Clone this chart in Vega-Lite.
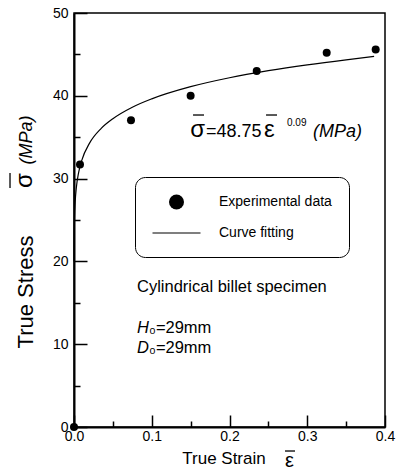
{
  "$schema": "https://vega.github.io/schema/vega-lite/v6.json",
  "width": 311,
  "height": 414,
  "autosize": {"type": "none"},
  "padding": {"left": 74, "top": 13, "right": 14, "bottom": 49},
  "background": "white",
  "config": {
    "view": {"stroke": "black", "strokeWidth": 1.5},
    "font": "Liberation Sans",
    "axis": {"labelFont": "Liberation Sans", "titleFont": "Liberation Sans", "labelColor": "black", "titleColor": "black", "domainColor": "black", "tickColor": "black", "titleFontWeight": "normal", "labelFlush": false}
  },
  "datasets": {
    "points": [
      {"strain": 0.0, "stress": 0.0, "series": "Experimental data"},
      {"strain": 0.0077, "stress": 31.7, "series": "Experimental data"},
      {"strain": 0.0733, "stress": 37.05, "series": "Experimental data"},
      {"strain": 0.150, "stress": 40.0, "series": "Experimental data"},
      {"strain": 0.235, "stress": 43.0, "series": "Experimental data"},
      {"strain": 0.325, "stress": 45.2, "series": "Experimental data"},
      {"strain": 0.388, "stress": 45.6, "series": "Experimental data"}
    ],
    "curve": [
      {"strain": 0.00005, "stress": 19.99},
      {"strain": 0.0001, "stress": 21.28},
      {"strain": 0.0003, "stress": 23.49},
      {"strain": 0.0007, "stress": 25.36},
      {"strain": 0.0015, "stress": 27.15},
      {"strain": 0.003, "stress": 28.90},
      {"strain": 0.006, "stress": 30.76},
      {"strain": 0.01, "stress": 32.21},
      {"strain": 0.02, "stress": 34.28},
      {"strain": 0.035, "stress": 36.06},
      {"strain": 0.05, "stress": 37.23},
      {"strain": 0.075, "stress": 38.62},
      {"strain": 0.1, "stress": 39.63},
      {"strain": 0.15, "stress": 41.10},
      {"strain": 0.2, "stress": 42.18},
      {"strain": 0.25, "stress": 43.03},
      {"strain": 0.3, "stress": 43.74},
      {"strain": 0.35, "stress": 44.35},
      {"strain": 0.386, "stress": 44.75}
    ],
    "bars": [
      {"x1": 0.1531, "x2": 0.1672, "y1": 37.68, "y2": 37.68},
      {"x1": 0.2470, "x2": 0.2611, "y1": 37.68, "y2": 37.68},
      {"x1": 0.2714, "x2": 0.2843, "y1": -2.90, "y2": -2.90},
      {"x1": -0.0823, "x2": -0.0823, "y1": 28.86, "y2": 30.68}
    ],
    "notes": [
      {"part": "plain", "x": 0.081, "y": 16.36, "text": "Cylindrical billet specimen"},
      {"part": "plain", "x": 0.0965, "y": 11.34, "text": "₀=29mm"},
      {"part": "plain", "x": 0.0965, "y": 8.93, "text": "₀=29mm"},
      {"part": "italicRight", "x": 0.0965, "y": 11.34, "text": "H"},
      {"part": "italicRight", "x": 0.0965, "y": 8.93, "text": "D"},
      {"part": "symRight", "x": 0.1685, "y": 35.02, "text": "σ"},
      {"part": "num", "x": 0.1698, "y": 35.02, "text": "=48.75"},
      {"part": "symLeft", "x": 0.2444, "y": 35.02, "text": "ε"},
      {"part": "sup", "x": 0.274, "y": 36.35, "text": "0.09"},
      {"part": "unit", "x": 0.3074, "y": 35.02, "text": "(MPa)"},
      {"part": "xsym", "x": 0.2714, "y": -4.83, "text": "ε"},
      {"part": "ysym", "x": -0.054, "y": 29.77, "text": "σ"},
      {"part": "yunit", "x": -0.054, "y": 34.66, "text": "(MPa)"}
    ]
  },
  "resolve": {"axis": {"x": "independent", "y": "independent"}},
  "layer": [
    {
      "data": {"name": "curve"},
      "mark": {"type": "line", "color": "black", "strokeWidth": 1.2, "interpolate": "monotone", "clip": false},
      "encoding": {
        "x": {"field": "strain", "type": "quantitative", "scale": {"domain": [0, 0.4], "nice": false},
          "axis": {"orient": "bottom", "values": [0, 0.1, 0.2, 0.3, 0.4], "format": ".1f", "tickSize": -12, "tickWidth": 1.5, "domainWidth": 2, "labelPadding": 14, "labelFontSize": 14, "grid": false,
            "title": "True Strain", "titleFontSize": 17, "titleX": 149.5, "titleY": 36, "titleBaseline": "alphabetic", "titleAnchor": "middle", "titleAlign": "center"}},
        "y": {"field": "stress", "type": "quantitative", "scale": {"domain": [0, 50], "nice": false},
          "axis": {"orient": "left", "values": [0, 10, 20, 30, 40, 50], "format": "d", "tickSize": -13, "tickWidth": 1.5, "domainWidth": 2, "labelPadding": 19, "labelFontSize": 14, "grid": false,
            "title": "True Stress", "titleFontSize": 22, "titleX": -42, "titleY": 278.5, "titleBaseline": "alphabetic", "titleAngle": 270, "titleAlign": "center"}}
      }
    },
    {
      "data": {"name": "points"},
      "mark": {"type": "point", "filled": true, "color": "black", "opacity": 1, "size": 64, "clip": false},
      "encoding": {
        "x": {"field": "strain", "type": "quantitative",
          "axis": {"orient": "bottom", "values": [0.05, 0.15, 0.25, 0.35], "tickSize": -6, "tickWidth": 1.5, "labels": false, "domain": false, "title": null, "grid": false}},
        "y": {"field": "stress", "type": "quantitative",
          "axis": {"orient": "left", "values": [5, 15, 25, 35, 45], "tickSize": -6, "tickWidth": 1.5, "labels": false, "domain": false, "title": null, "grid": false}},
        "shape": {"field": "series", "type": "nominal",
          "scale": {"domain": ["Experimental data", "Curve fitting"], "range": ["circle", "M-3.2,-0.08H3.2V0.08H-3.2Z"]},
          "legend": {"orient": "none", "legendX": 61, "legendY": 164, "title": null, "strokeColor": "black", "cornerRadius": 10, "padding": 17, "fillColor": "white",
            "symbolSize": 225, "symbolOffset": 16.5, "symbolStrokeColor": "black", "symbolStrokeWidth": 0.4, "symbolFillColor": "black", "symbolOpacity": 1,
            "labelFont": "Liberation Sans", "labelFontSize": 14, "labelColor": "black", "labelOffset": 34.5, "rowPadding": 14,
            "encode": {
              "legend": {"strokeWidth": {"value": 1.2}},
              "symbols": {"fill": {"value": "black"}, "opacity": {"value": 1}}}}
        }
      }
    },
    {
      "data": {"name": "bars"},
      "mark": {"type": "rule", "color": "black", "strokeWidth": 1.3, "clip": false},
      "encoding": {
        "x": {"field": "x1", "type": "quantitative", "axis": null},
        "x2": {"field": "x2"},
        "y": {"field": "y1", "type": "quantitative", "axis": null},
        "y2": {"field": "y2"}
      }
    },
    {
      "data": {"name": "notes"},
      "transform": [{"filter": "datum.part === 'plain'"}],
      "mark": {"type": "text", "align": "left", "baseline": "alphabetic", "fontSize": 16.5, "color": "black", "font": "Liberation Sans"},
      "encoding": {
        "x": {"field": "x", "type": "quantitative", "axis": null},
        "y": {"field": "y", "type": "quantitative", "axis": null},
        "text": {"field": "text"}
      }
    },
    {
      "data": {"name": "notes"},
      "transform": [{"filter": "datum.part === 'italicRight'"}],
      "mark": {"type": "text", "align": "right", "baseline": "alphabetic", "fontSize": 16.5, "fontStyle": "italic", "color": "black", "font": "Liberation Sans"},
      "encoding": {
        "x": {"field": "x", "type": "quantitative", "axis": null},
        "y": {"field": "y", "type": "quantitative", "axis": null},
        "text": {"field": "text"}
      }
    },
    {
      "data": {"name": "notes"},
      "transform": [{"filter": "datum.part === 'symRight'"}],
      "mark": {"type": "text", "align": "right", "baseline": "alphabetic", "fontSize": 24, "color": "black", "font": "Liberation Sans"},
      "encoding": {
        "x": {"field": "x", "type": "quantitative", "axis": null},
        "y": {"field": "y", "type": "quantitative", "axis": null},
        "text": {"field": "text"}
      }
    },
    {
      "data": {"name": "notes"},
      "transform": [{"filter": "datum.part === 'symLeft'"}],
      "mark": {"type": "text", "align": "left", "baseline": "alphabetic", "fontSize": 24, "color": "black", "font": "Liberation Sans"},
      "encoding": {
        "x": {"field": "x", "type": "quantitative", "axis": null},
        "y": {"field": "y", "type": "quantitative", "axis": null},
        "text": {"field": "text"}
      }
    },
    {
      "data": {"name": "notes"},
      "transform": [{"filter": "datum.part === 'num'"}],
      "mark": {"type": "text", "align": "left", "baseline": "alphabetic", "fontSize": 18, "color": "black", "font": "Liberation Sans"},
      "encoding": {
        "x": {"field": "x", "type": "quantitative", "axis": null},
        "y": {"field": "y", "type": "quantitative", "axis": null},
        "text": {"field": "text"}
      }
    },
    {
      "data": {"name": "notes"},
      "transform": [{"filter": "datum.part === 'sup'"}],
      "mark": {"type": "text", "align": "left", "baseline": "alphabetic", "fontSize": 10, "color": "black", "font": "Liberation Sans"},
      "encoding": {
        "x": {"field": "x", "type": "quantitative", "axis": null},
        "y": {"field": "y", "type": "quantitative", "axis": null},
        "text": {"field": "text"}
      }
    },
    {
      "data": {"name": "notes"},
      "transform": [{"filter": "datum.part === 'unit'"}],
      "mark": {"type": "text", "align": "left", "baseline": "alphabetic", "fontSize": 18, "fontStyle": "italic", "color": "black", "font": "Liberation Sans"},
      "encoding": {
        "x": {"field": "x", "type": "quantitative", "axis": null},
        "y": {"field": "y", "type": "quantitative", "axis": null},
        "text": {"field": "text"}
      }
    },
    {
      "data": {"name": "notes"},
      "transform": [{"filter": "datum.part === 'xsym'"}],
      "mark": {"type": "text", "align": "left", "baseline": "alphabetic", "fontSize": 20, "color": "black", "font": "Liberation Sans"},
      "encoding": {
        "x": {"field": "x", "type": "quantitative", "axis": null},
        "y": {"field": "y", "type": "quantitative", "axis": null},
        "text": {"field": "text"}
      }
    },
    {
      "data": {"name": "notes"},
      "transform": [{"filter": "datum.part === 'ysym'"}],
      "mark": {"type": "text", "align": "center", "baseline": "alphabetic", "angle": 270, "fontSize": 24, "color": "black", "font": "Liberation Sans"},
      "encoding": {
        "x": {"field": "x", "type": "quantitative", "axis": null},
        "y": {"field": "y", "type": "quantitative", "axis": null},
        "text": {"field": "text"}
      }
    },
    {
      "data": {"name": "notes"},
      "transform": [{"filter": "datum.part === 'yunit'"}],
      "mark": {"type": "text", "align": "center", "baseline": "alphabetic", "angle": 270, "fontSize": 18, "fontStyle": "italic", "color": "black", "font": "Liberation Sans"},
      "encoding": {
        "x": {"field": "x", "type": "quantitative", "axis": null},
        "y": {"field": "y", "type": "quantitative", "axis": null},
        "text": {"field": "text"}
      }
    }
  ]
}
